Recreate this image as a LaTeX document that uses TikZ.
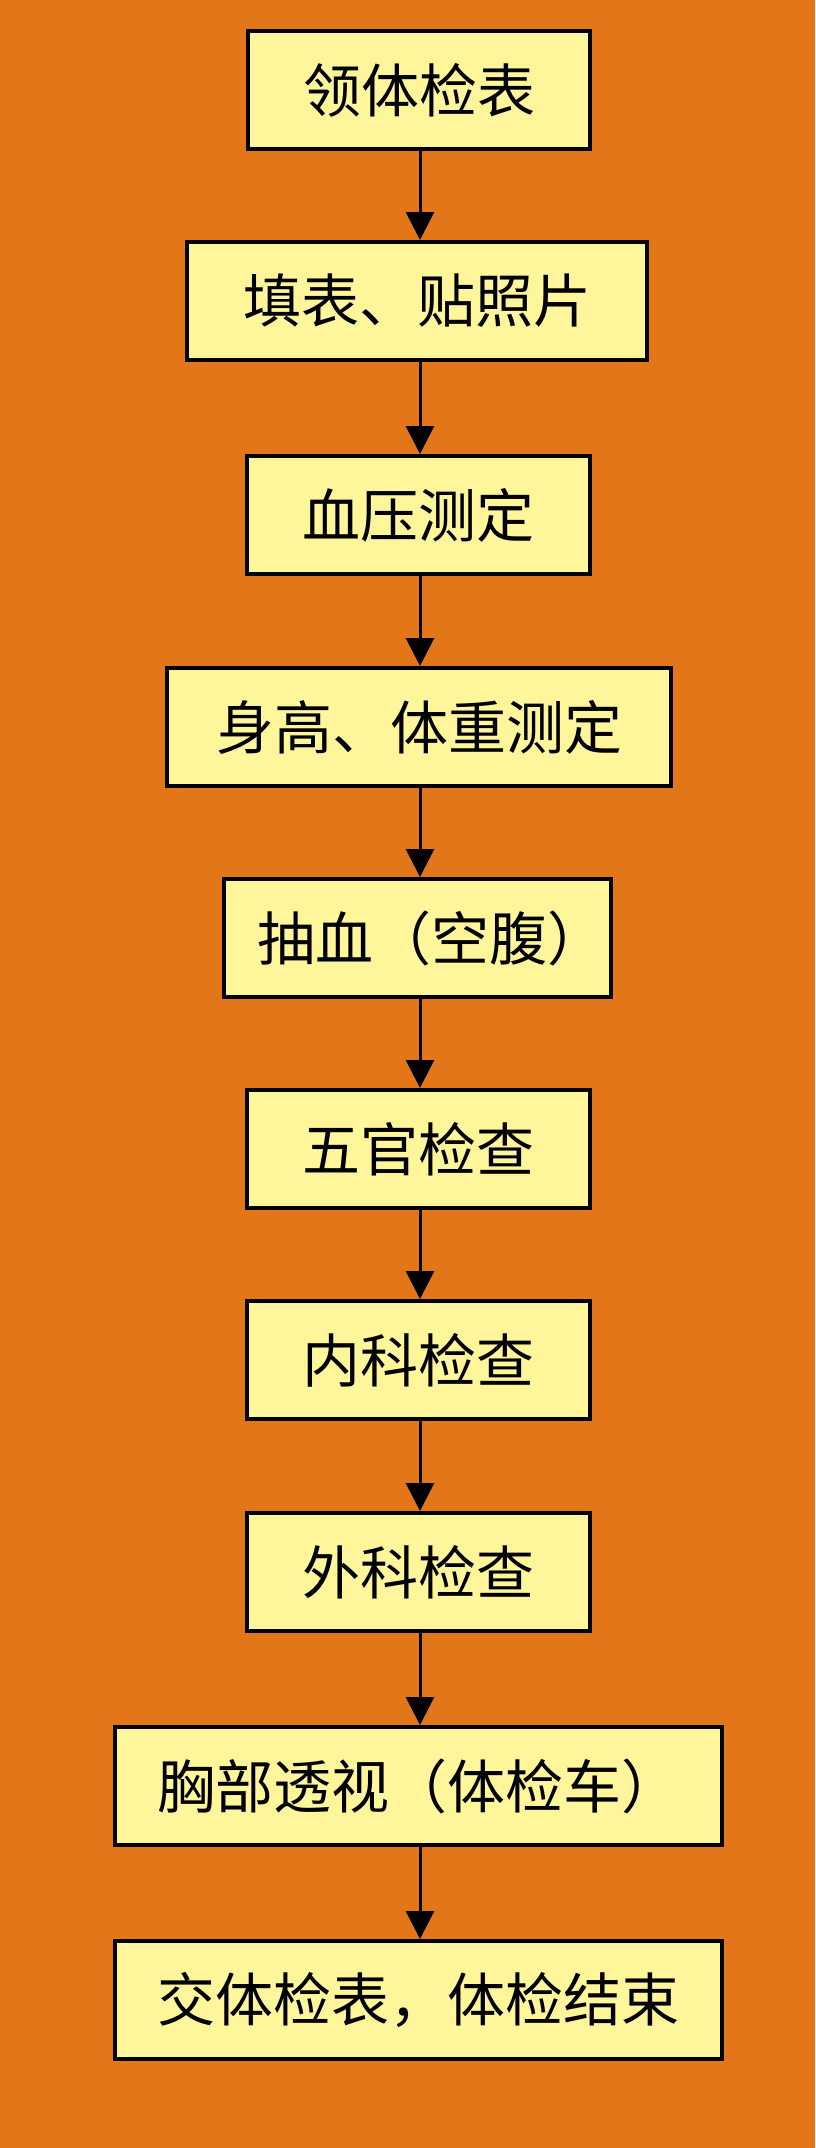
\documentclass[tikz,border=0pt]{standalone}
\usepackage{fontspec}
\setmainfont{Noto Sans CJK SC}
\usetikzlibrary{arrows.meta}
\definecolor{bgorange}{RGB}{228,118,26}
\definecolor{boxyellow}{RGB}{255,246,156}
\begin{document}
\begin{tikzpicture}[x=0.5pt,y=-0.5pt,
  box/.style={draw=black, line width=2pt, fill=boxyellow, rectangle, inner sep=0pt,
    minimum height=59pt, font=\fontsize{29pt}{32pt}\selectfont, text=black},
  flow/.style={line width=1.5pt, -{Triangle[width=14pt,length=14pt]}}]
\fill[bgorange] (0,0) rectangle (815,2148);
\useasboundingbox (0,0) rectangle (815,2148);
\node[box, minimum width=171pt] (b1) at (419,90) {领体检表};
\node[box, minimum width=230pt] (b2) at (417,301) {填表、贴照片};
\node[box, minimum width=171.5pt] (b3) at (418,515) {血压测定};
\node[box, minimum width=252pt] (b4) at (419,727) {身高、体重测定};
\node[box, minimum width=193.5pt] (b5) at (417,938) {\hspace{14pt}抽血（空腹）};
\node[box, minimum width=171.5pt] (b6) at (418,1149) {五官检查};
\node[box, minimum width=171.5pt] (b7) at (418,1360) {内科检查};
\node[box, minimum width=171.5pt] (b8) at (418,1572) {外科检查};
\node[box, minimum width=303.5pt] (b9) at (418,1786) {胸部透视（体检车）};
\node[box, minimum width=303.5pt] (b10) at (418,2000) {交体检表，体检结束};
\foreach \a/\b in {b1/b2,b2/b3,b3/b4,b4/b5,b5/b6,b6/b7,b7/b8,b8/b9,b9/b10}{
  \draw[flow] (\a.south -| 420,0) -- (\b.north -| 420,0);
}
\end{tikzpicture}
\end{document}
